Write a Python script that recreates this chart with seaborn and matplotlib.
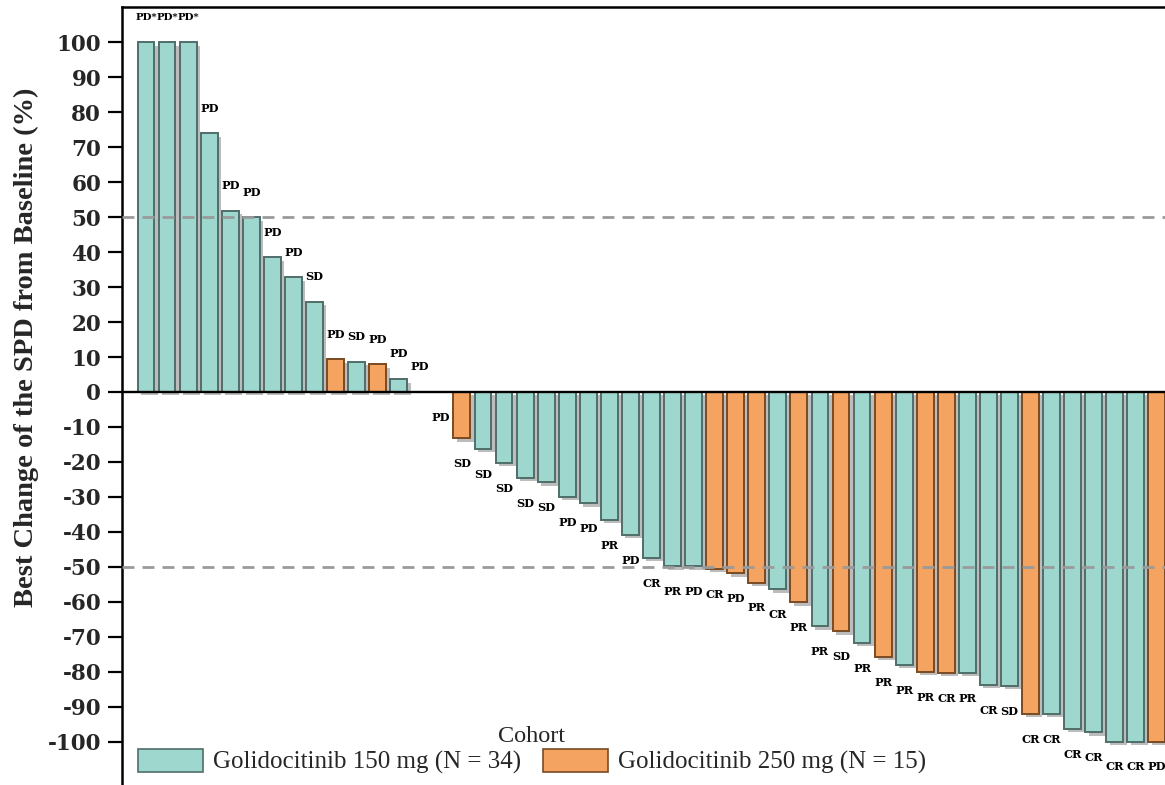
import matplotlib
matplotlib.use("Agg")
import matplotlib.pyplot as plt
import matplotlib.patheffects as pe
from matplotlib.patches import Patch
import pandas as pd
import seaborn as sns

# ---------------- data ----------------
patients = [f"P{i:02d}" for i in range(1, 50)]
best_change = [100, 100, 100, 74.0, 51.9, 50.0, 38.5, 32.8, 25.8, 9.3, 8.7, 7.9, 3.7,
               0.05, -0.05,
               -13.2, -16.3, -20.3, -24.6, -25.8, -30.0, -31.8, -36.6, -40.9, -47.5,
               -49.8, -49.8, -50.6, -51.8, -54.6, -56.4, -60.1, -67.0, -68.4, -71.8,
               -75.8, -78.1, -80.1, -80.4, -80.4, -83.8, -84.1, -92.1, -92.1, -96.4,
               -97.3, -100, -100, -100]
C150 = "Golidocitinib 150 mg (N = 34)"
C250 = "Golidocitinib 250 mg (N = 15)"
cohort = ([C150] * 9 + [C250, C150, C250, C150] + [C250] * 3 + [C150] * 11 +
          [C250] * 3 + [C150, C250, C150, C250, C150, C250, C150] + [C250] * 2 +
          [C150] * 3 + [C250] + [C150] * 5 + [C250])
response = ["PD*", "PD*", "PD*", "PD", "PD", "PD", "PD", "PD", "SD", "PD", "SD", "PD", "PD",
            "PD", "PD", "SD", "SD", "SD", "SD", "SD", "PD", "PD", "PR", "PD", "CR",
            "PR", "PD", "CR", "PD", "PR", "CR", "PR", "PR", "SD", "PR", "PR", "PR",
            "PR", "CR", "PR", "CR", "SD", "CR", "CR", "CR", "CR", "CR", "CR", "PD"]
yticks = list(range(-100, 101, 10))
cohort_order = [C150, C250]

df = pd.DataFrame({"patient": patients, "change": best_change,
                   "cohort": cohort, "response": response})

# ---------------- style ----------------
sns.set_style("white")
plt.rcParams["font.family"] = ["DejaVu Serif"]

fill = {C150: "#9dd7cd", C250: "#f4a460"}
edge = {C150: "#4f6e69", C250: "#7a4a22"}

W, H = 1165, 785
fig = plt.figure(figsize=(W / 100, H / 100), dpi=100)
ax_left, ax_right, ax_top, ax_bot = 122, 1180, 7, 800
ax = fig.add_axes([ax_left / W, (H - ax_bot) / H,
                   (ax_right - ax_left) / W, (ax_bot - ax_top) / H])

sns.barplot(data=df, x="patient", y="change", hue="cohort", hue_order=cohort_order,
            palette=fill, saturation=1, dodge=False, width=0.8, linewidth=1.4,
            legend=False, ax=ax, zorder=2)

for cont, lvl in zip(ax.containers, cohort_order):
    for bar in cont:
        bar.set_edgecolor(edge[lvl])
        if abs(bar.get_height()) > 1:
            bar.set_path_effects([pe.SimplePatchShadow(offset=(2.5, -2.5),
                                                       shadow_rgbFace=(0.35, 0.35, 0.35),
                                                       alpha=0.4),
                                  pe.Normal()])

# response labels
for i, (v, r) in enumerate(zip(best_change, response)):
    ax.text(i, v + 7.2 if v > 0 else v - 7.2, r, ha="center", va="center",
            fontsize=7.4 if "*" in r else 8.2, fontweight="bold",
            family="DejaVu Serif", color="black", zorder=5)

ax.axhline(0, color="black", lw=1.7, zorder=4)
for yv in (50, -50):
    ax.axhline(yv, color="#9a9a9a", lw=2.0, dashes=(4.3, 2.9), zorder=4)

ax.set_xlim(-1.14, -1.14 + (ax_right - ax_left) / 21.06)
ax.set_ylim(-(ax_bot - 392) / 3.495, (392 - ax_top) / 3.495)
ax.set_yticks(yticks)
ax.set_yticklabels([str(t) for t in yticks], fontsize=15.5, fontweight="bold",
                   family="DejaVu Serif")
ax.tick_params(axis="y", direction="out", length=10, width=1.6, pad=5,
               color="black", left=True)
ax.tick_params(axis="x", bottom=False, labelbottom=False)
ax.set_xlabel("")
ax.set_ylabel("Best Change of the SPD from Baseline (%)", fontsize=20.5,
              fontweight="bold", family="Liberation Serif")
ax.yaxis.set_label_coords((39 - ax_left) / (ax_right - ax_left),
                          (ax_bot - 347) / (ax_bot - ax_top))

for s in ["top", "left"]:
    ax.spines[s].set_visible(True)
    ax.spines[s].set_color("black")
    ax.spines[s].set_linewidth(1.8)
for s in ["right", "bottom"]:
    ax.spines[s].set_visible(False)

handles = [Patch(facecolor=fill[c], edgecolor=edge[c], linewidth=1.2, label=c)
           for c in cohort_order]
leg = fig.legend(handles=handles, title="Cohort", loc="center",
                 bbox_to_anchor=(532 / W, 1 - 750 / H), ncol=2, frameon=False,
                 prop={"family": "Liberation Serif", "size": 18},
                 title_fontproperties={"family": "Liberation Serif", "size": 17.5},
                 handlelength=2.6, handleheight=1.0, handletextpad=0.4,
                 columnspacing=0.85, borderpad=0.1, labelspacing=0.1)

fig.savefig("out.png", dpi=100)
